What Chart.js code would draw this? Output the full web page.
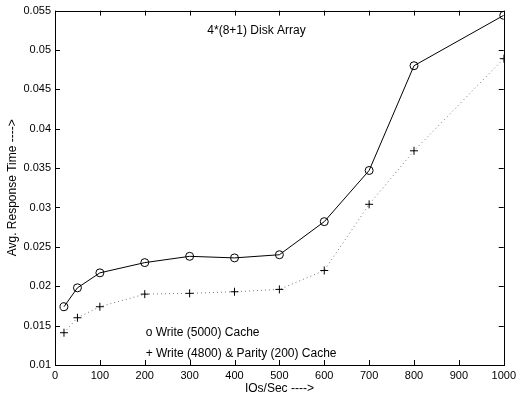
<!DOCTYPE html>
<html><head><meta charset="utf-8">
<script src="https://cdn.jsdelivr.net/npm/chart.js@4/dist/chart.umd.min.js"></script>
<style>html,body{margin:0;padding:0;background:#fff}#wrap{width:520px;height:400px}</style>
</head><body><div id="wrap"><canvas id="c"></canvas></div>
<script>
const ioRates = [20, 50, 100, 200, 300, 400, 500, 600, 700, 800, 1000];
const writeCache = [0.0174, 0.0198, 0.0217, 0.0230, 0.0238, 0.0236, 0.0240, 0.0282, 0.0347, 0.0480, 0.0544];
const writeParityCache = [0.0141, 0.0160, 0.0174, 0.0190, 0.0191, 0.0193, 0.0196, 0.0220, 0.0304, 0.0372, 0.0489];
const xTicks = [0, 100, 200, 300, 400, 500, 600, 700, 800, 900, 1000];
const yTicks = [0.01, 0.015, 0.02, 0.025, 0.03, 0.035, 0.04, 0.045, 0.05, 0.055];
const titleText = "4*(8+1) Disk Array";
const legendLines = ["o Write (5000) Cache", "+ Write (4800) & Parity (200) Cache"];
const xLabel = "IOs/Sec ---->";
const yLabel = "Avg. Response Time ---->";

const FONT = "'Liberation Sans', Arial, sans-serif";

const frame = {
  id: 'frame',
  afterDraw(chart) {
    const {ctx, chartArea: a, scales: {x, y}} = chart;
    ctx.save();
    ctx.strokeStyle = '#000';
    ctx.lineWidth = 1;
    ctx.strokeRect(Math.round(a.left) + 0.5, Math.round(a.top) + 0.5, Math.round(a.right - a.left), Math.round(a.bottom - a.top));
    const L = 5;
    ctx.beginPath();
    xTicks.forEach(v => {
      const px = Math.round(x.getPixelForValue(v)) + 0.5;
      ctx.moveTo(px, a.bottom); ctx.lineTo(px, a.bottom - L);
      ctx.moveTo(px, a.top); ctx.lineTo(px, a.top + L);
    });
    yTicks.forEach(v => {
      const py = Math.round(y.getPixelForValue(v)) + 0.5;
      ctx.moveTo(a.left, py); ctx.lineTo(a.left + L, py);
      ctx.moveTo(a.right, py); ctx.lineTo(a.right - L, py);
    });
    ctx.stroke();
    ctx.fillStyle = '#000';
    ctx.font = '12px ' + FONT;
    ctx.textAlign = 'center';
    ctx.textBaseline = 'middle';
    ctx.fillText(titleText, x.getPixelForValue(449), y.getPixelForValue(0.0524));
    ctx.textAlign = 'left';
    ctx.fillText(legendLines[0], x.getPixelForValue(202), y.getPixelForValue(0.0141));
    ctx.fillText(legendLines[1], x.getPixelForValue(202), y.getPixelForValue(0.0114));
    ctx.textAlign = 'center';
    ctx.fillText(xLabel, (a.left + a.right) / 2, 389);
    ctx.translate(13, (a.top + a.bottom) / 2);
    ctx.rotate(-Math.PI / 2);
    ctx.fillText(yLabel, 0, 0);
    ctx.restore();
  }
};

new Chart(document.getElementById('c'), {
  type: 'line',
  data: {
    datasets: [
      {
        label: legendLines[0],
        data: ioRates.map((v, i) => ({x: v, y: writeCache[i]})),
        borderColor: '#000', borderWidth: 1,
        pointStyle: 'circle', pointRadius: 4, pointBorderColor: '#000', pointBackgroundColor: 'rgba(0,0,0,0)', pointBorderWidth: 1,
        fill: false, tension: 0
      },
      {
        label: legendLines[1],
        data: ioRates.map((v, i) => ({x: v, y: writeParityCache[i]})),
        borderColor: '#777', borderWidth: 1, borderDash: [1, 3],
        pointStyle: 'cross', pointRadius: 4, pointBorderColor: '#000', pointBorderWidth: 1,
        fill: false, tension: 0
      }
    ]
  },
  options: {
    responsive: true, maintainAspectRatio: false, animation: false,
    layout: {padding: {left: 0, right: 13, top: 9, bottom: 0}},
    plugins: {legend: {display: false}, tooltip: {enabled: false}},
    scales: {
      x: {
        type: 'linear', min: 0, max: 1000,
        afterBuildTicks: s => { s.ticks = xTicks.map(v => ({value: v})); },
        afterFit: s => { s.height = 35; },
        grid: {display: false, drawTicks: false},
        border: {display: false},
        ticks: {color: '#000', font: {family: FONT, size: 11}, padding: 4, maxRotation: 0, callback: v => String(v)}
      },
      y: {
        type: 'linear', min: 0.01, max: 0.055,
        afterBuildTicks: s => { s.ticks = yTicks.map(v => ({value: v})); },
        afterFit: s => { s.width = 55; },
        grid: {display: false, drawTicks: false},
        border: {display: false},
        ticks: {color: '#000', font: {family: FONT, size: 11}, padding: 4, callback: v => String(parseFloat(Number(v).toFixed(3)))}
      }
    }
  },
  plugins: [frame]
});
</script></body></html>
